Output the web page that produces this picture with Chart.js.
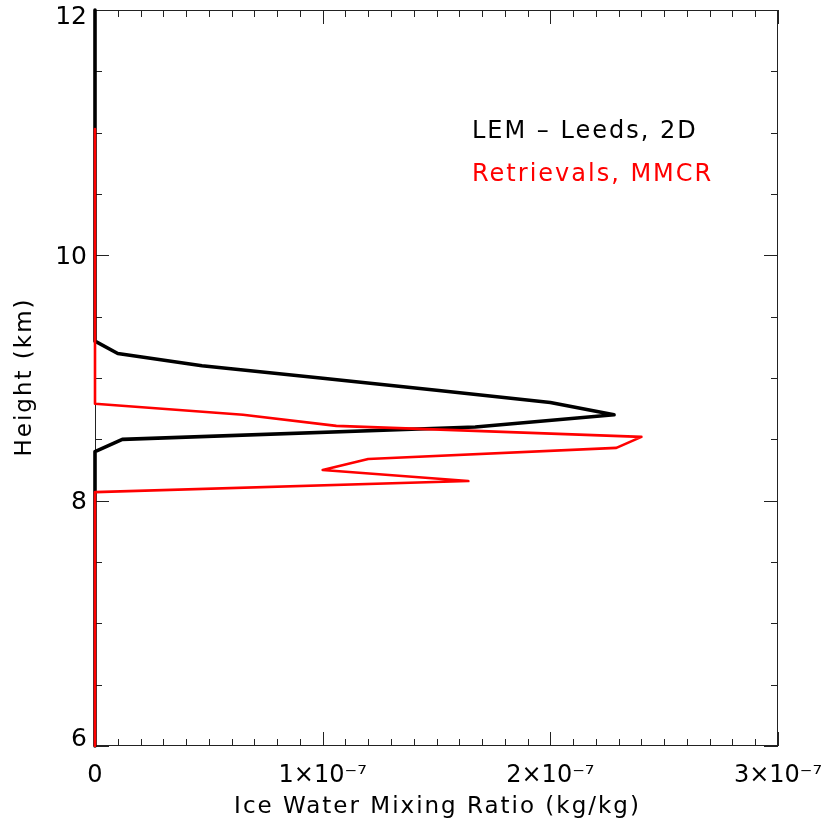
<!DOCTYPE html>
<html>
<head>
<meta charset="utf-8">
<script src="https://cdn.jsdelivr.net/npm/chart.js@4.4.1/dist/chart.umd.min.js"></script>
<style>
  html, body { margin:0; padding:0; background:#fff; }
  #wrap { width:828px; height:826px; }
</style>
</head>
<body>
<div id="wrap"><canvas id="chart" width="828" height="826"></canvas></div>
<script>
// ================== Data ==================
// LEM - Leeds, 2D (height km, ice water mixing ratio kg/kg)
const lemHeight = [12.0, 9.3, 9.2, 9.1, 9.0, 8.9, 8.8, 8.7, 8.6, 8.5, 8.4, 6.0];
const lemIwc    = [0, 0, 0.10e-7, 0.47e-7, 0.99e-7, 1.50e-7, 2.00e-7, 2.28e-7, 1.67e-7, 0.12e-7, 0, 0];

// Retrievals, MMCR
const retHeight = [11.03, 8.79, 8.70, 8.61, 8.52, 8.43, 8.34, 8.25, 8.16, 8.07, 6.0];
const retIwc    = [0, 0, 0.65e-7, 1.06e-7, 2.40e-7, 2.29e-7, 1.20e-7, 1.00e-7, 1.64e-7, 0, 0];

const xTicks = [0, 1e-7, 2e-7, 3e-7];
const yTicks = [6, 8, 10, 12];
const seriesNames = ['LEM – Leeds, 2D', 'Retrievals, MMCR'];
const xTitle = 'Ice Water Mixing Ratio (kg/kg)';
const yTitle = 'Height (km)';

const FONT = "'DejaVu Sans', sans-serif";

const toPts = (xs, ys) => xs.map((x,i)=>({x, y: ys[i]}));

// ================== Frame, inward ticks, labels, legend ==================
const framePlugin = {
  id: 'frame',
  beforeDatasetsDraw(chart){
    const {ctx, chartArea:a, scales:{x, y}} = chart;
    ctx.save();
    ctx.strokeStyle = '#222';
    ctx.lineWidth = 1;
    ctx.strokeRect(a.left+0.5, a.top+0.5, a.right-a.left-1, a.bottom-a.top-1);
    ctx.beginPath();
    // x ticks (bottom + top), minor every 1e-8
    for(let i=0;i<=30;i++){
      const px = Math.round(x.getPixelForValue(i*1e-8))+0.5;
      const len = i%10===0 ? 14 : 7;
      ctx.moveTo(px, a.bottom); ctx.lineTo(px, a.bottom-len);
      ctx.moveTo(px, a.top); ctx.lineTo(px, a.top+len);
    }
    // y ticks (left + right), minor every 0.5
    for(let i=0;i<=12;i++){
      const v = 6 + i*0.5;
      const py = Math.round(y.getPixelForValue(v))+0.5;
      const len = i%4===0 ? 14 : 7;
      ctx.moveTo(a.left, py); ctx.lineTo(a.left+len, py);
      ctx.moveTo(a.right, py); ctx.lineTo(a.right-len, py);
    }
    ctx.stroke();

    // y tick labels (end labels nudged inside, like the original)
    ctx.fillStyle = '#000';
    ctx.font = `25px ${FONT}`;
    ctx.textAlign = 'right';
    ctx.textBaseline = 'middle';
    yTicks.forEach(v=>{
      const off = v===y.max ? 7 : v===y.min ? -7 : 2;
      ctx.fillText(String(v), a.left-8, y.getPixelForValue(v)+off);
    });
    ctx.restore();
  },
  afterDatasetsDraw(chart){
    const {ctx, chartArea:a} = chart;
    ctx.save();
    ctx.letterSpacing = '2px';
    ctx.font = `24px ${FONT}`;
    ctx.textBaseline = 'alphabetic';
    ctx.textAlign = 'left';
    ctx.fillStyle = '#000';
    ctx.fillText(seriesNames[0], a.left+377, a.top+128);
    ctx.fillStyle = '#ff0000';
    ctx.fillText(seriesNames[1], a.left+377, a.top+171);

    // axis titles
    ctx.fillStyle = '#000';
    ctx.font = `23px ${FONT}`;
    ctx.textAlign = 'center';
    ctx.textBaseline = 'middle';
    ctx.fillText(xTitle, (a.left+a.right)/2 + 1, 807);
    ctx.translate(25, (a.top+a.bottom)/2);
    ctx.rotate(-Math.PI/2);
    ctx.fillText(yTitle, 1, 0);
    ctx.restore();
  }
};

// ================== Chart ==================
new Chart(document.getElementById('chart').getContext('2d'), {
  type: 'line',
  data: {
    datasets: [
      { label: seriesNames[1], data: toPts(retIwc, retHeight), borderColor:'#ff0000', borderWidth:2.6, borderJoinStyle:'round', pointRadius:0, tension:0, clip:6, order:0 },
      { label: seriesNames[0], data: toPts(lemIwc, lemHeight), borderColor:'#000000', borderWidth:3.6, borderJoinStyle:'round', pointRadius:0, tension:0, clip:6, order:1 },
    ]
  },
  options: {
    responsive: false,
    animation: false,
    layout: { padding: { top:10, right:50, left:0, bottom:0 } },
    plugins: { legend:{display:false}, tooltip:{enabled:false} },
    scales: {
      x: {
        type: 'linear', min: 0, max: 3e-7,
        afterBuildTicks: s => { s.ticks = xTicks.map(v=>({value:v})); },
        afterFit: s => { s.height = 80; s.paddingLeft = 0; s.paddingRight = 0; },
        grid: { display:false, drawTicks:false }, border: { display:false },
        ticks: {
          padding: 15, color:'#000', font:{ family:FONT, size:24 }, maxRotation:0,
          callback: v => v===0 ? '0' : `${Math.round(v/1e-7)}×10⁻⁷`
        }
      },
      y: {
        type: 'linear', min: 6, max: 12,
        afterBuildTicks: s => { s.ticks = yTicks.map(v=>({value:v})); },
        afterFit: s => { s.width = 95; s.paddingTop = 0; s.paddingBottom = 0; },
        grid: { display:false, drawTicks:false }, border: { display:false },
        ticks: { display:false }
      }
    }
  },
  plugins: [framePlugin]
});
</script>
</body>
</html>
